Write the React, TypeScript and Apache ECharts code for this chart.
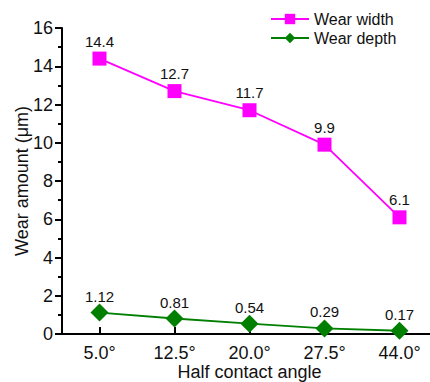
import React, { useEffect, useRef } from "react";
import * as echarts from "echarts";

const categories = ["5.0°", "12.5°", "20.0°", "27.5°", "44.0°"];
const wearWidth = [14.4, 12.7, 11.7, 9.9, 6.1];
const wearDepth = [1.12, 0.81, 0.54, 0.29, 0.17];
const depthLabels = ["1.12", "0.81", "0.54", "0.29", "0.17"];

const FONT = 'Arial, "Liberation Sans", sans-serif';

export default function App() {
  const ref = useRef<HTMLDivElement>(null);
  useEffect(() => {
    const chart = echarts.init(ref.current!, null, { renderer: "svg" });
    chart.setOption({
      animation: false,
      backgroundColor: "#ffffff",
      textStyle: { fontFamily: FONT },
      legend: {
        orient: "vertical",
        left: 270,
        top: 11,
        padding: 0,
        itemWidth: 38,
        itemHeight: 13,
        itemGap: 3,
        textStyle: { fontFamily: FONT, fontSize: 16, color: "#111" },
        data: ["Wear width", "Wear depth"],
      },
      grid: { left: 62, top: 28, width: 375, bottom: 48, containLabel: false, outerBoundsMode: "none" },
      xAxis: {
        type: "category",
        data: categories,
        boundaryGap: true,
        name: "Half contact angle",
        nameLocation: "middle",
        nameGap: 29,
        nameMoveOverlap: false,
        nameTextStyle: { fontFamily: FONT, fontSize: 18, color: "#111" },
        axisLine: { lineStyle: { color: "#000", width: 2 } },
        axisTick: { show: true, inside: true, alignWithLabel: true, length: 7, lineStyle: { color: "#000", width: 2 } },
        axisLabel: { fontFamily: FONT, fontSize: 18, color: "#111", margin: 10 },
        splitLine: { show: false },
      },
      yAxis: {
        type: "value",
        min: 0,
        max: 16,
        interval: 2,
        name: "Wear amount (μm)",
        nameLocation: "middle",
        nameGap: 31,
        nameMoveOverlap: false,
        nameTextStyle: { fontFamily: FONT, fontSize: 18, color: "#111" },
        axisLine: { show: true, lineStyle: { color: "#000", width: 2 } },
        axisTick: { show: true, inside: false, length: 7, lineStyle: { color: "#000", width: 2 } },
        minorTick: { show: true, splitNumber: 2, length: 4, lineStyle: { color: "#000", width: 2 } },
        axisLabel: { fontFamily: FONT, fontSize: 18, color: "#111", margin: 9 },
        splitLine: { show: false },
      },
      series: [
        {
          name: "Wear width",
          type: "line",
          data: wearWidth,
          symbol: "rect",
          symbolSize: 14,
          itemStyle: { color: "#ff00ff" },
          lineStyle: { color: "#ff00ff", width: 1.8 },
          label: {
            show: true,
            position: "top",
            distance: 3,
            fontFamily: FONT,
            fontSize: 15,
            color: "#111",
          },
        },
        {
          name: "Wear depth",
          type: "line",
          data: wearDepth,
          symbol: "diamond",
          symbolSize: 18,
          itemStyle: { color: "#007f00" },
          lineStyle: { color: "#007f00", width: 1.8 },
          label: {
            show: true,
            position: "top",
            distance: 0,
            fontFamily: FONT,
            fontSize: 15,
            color: "#111",
            formatter: (p: any) => depthLabels[p.dataIndex],
          },
        },
      ],
    });
    return () => chart.dispose();
  }, []);
  return <div ref={ref} style={{ width: 430, height: 382, position: "absolute", left: 0, top: 0 }} />;
}
